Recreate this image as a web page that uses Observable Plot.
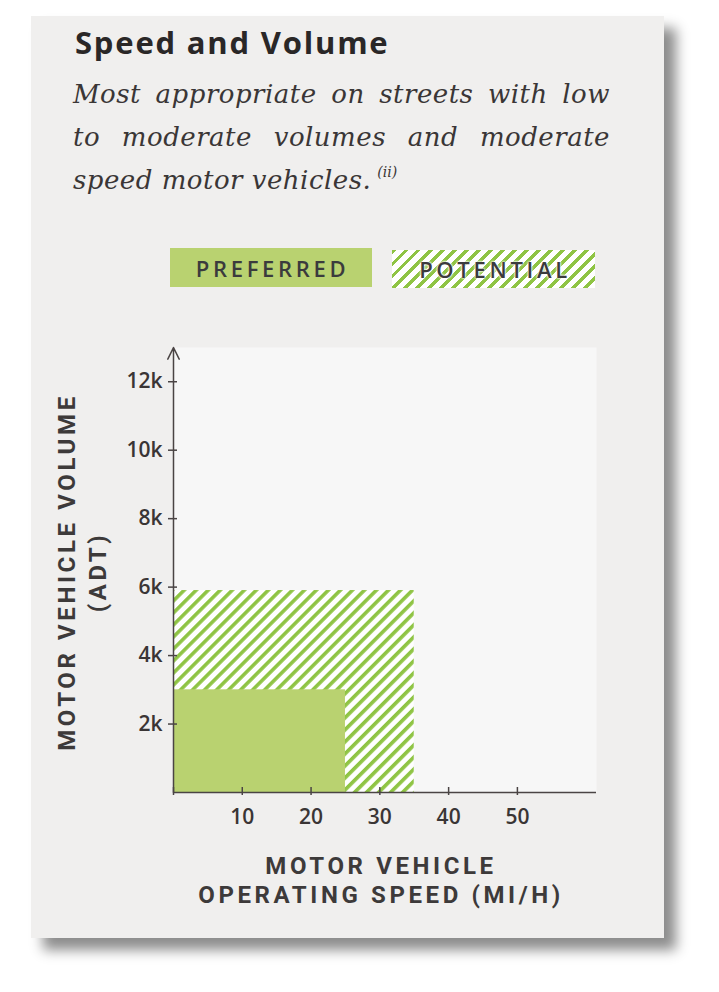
<!DOCTYPE html>
<html>
<head>
<meta charset="utf-8">
<script src="https://cdn.jsdelivr.net/npm/d3@7"></script>
<script src="https://cdn.jsdelivr.net/npm/@observablehq/plot@0.6"></script>
<style>
  html, body { margin: 0; padding: 0; background: #ffffff; width: 719px; height: 992px; overflow: hidden; }
  #card { position: absolute; left: 31px; top: 16px; width: 633px; height: 922px; background: #f0efee;
          box-shadow: 12px 12px 12px rgba(0,0,0,0.45); }
  #title { position: absolute; left: 75px; top: 24px; font-family: "Open Sans", sans-serif; font-weight: 700;
           font-size: 31px; line-height: 36px; color: #2a2727; letter-spacing: 1.8px; white-space: nowrap; }
  .sub { position: absolute; left: 73px; width: 537px; font-family: "DejaVu Serif", serif; font-style: italic;
         font-size: 26px; line-height: 30px; color: #3a3636; white-space: nowrap; letter-spacing: 0.5px; }
  .sub.j { text-align: justify; text-align-last: justify; white-space: normal; }
  .sub sup { font-size: 14px; vertical-align: 0; position: relative; top: -12px; margin-left: 6px; letter-spacing: 0; }
  .leg { position: absolute; font-family: "Open Sans", sans-serif; font-weight: 600; font-size: 22px; color: #3b3b3d;
         letter-spacing: 3.7px; display: flex; align-items: center; justify-content: center; box-sizing: border-box; padding-left: 3px; }
  #legPref { left: 170px; top: 248px; width: 202px; height: 39px; background: #b9d270; }
  #legPot { left: 392px; top: 250px; width: 203px; height: 38px;
            background: repeating-linear-gradient(135deg, #8fc444 0 3.5px, #ffffff 3.5px 8.5px);
            text-shadow: 0 0 2px #fff, 0 0 2px #fff, 0 0 3px #fff; }
  #chart { position: absolute; left: 31px; top: 320px; }
</style>
</head>
<body>
<div id="card"></div>
<div id="title">Speed and Volume</div>
<div class="sub j" style="top:79px">Most appropriate on streets with low</div>
<div class="sub j" style="top:122px">to moderate volumes and moderate</div>
<div class="sub" style="top:165px">speed motor vehicles.<sup>(ii)</sup></div>
<div class="leg" id="legPref">PREFERRED</div>
<div class="leg" id="legPot">POTENTIAL</div>
<div id="chart"></div>
<script>
// ---- data ----
const categories = ["Potential", "Preferred"];
const speedMax = [35, 25];          // mi/h
const volumeMax = [5900, 3000];     // ADT
const xTicks = [10, 20, 30, 40, 50];
const xTickMarks = [0, 10, 20, 30, 40, 50];
const yTicks = [2000, 4000, 6000, 8000, 10000, 12000];
const yTickLabels = ["2k", "4k", "6k", "8k", "10k", "12k"];
const xDomain = [0, 61.5];
const yDomain = [0, 13000];
const xTitle = "MOTOR VEHICLE\nOPERATING SPEED (MI/H)";
const yTitle = "MOTOR VEHICLE VOLUME\n(ADT)";

const rows = categories.map((c, i) => ({category: c, speed: speedMax[i], volume: volumeMax[i]}));
const axisColor = "#4a4444";
const textColor = "#3a3535";

const W = 633, H = 618, mL = 142, mR = 68, mT = 27, mB = 146;
const frameW = W - mL - mR, frameH = H - mT - mB;

const plot = Plot.plot({
  width: W, height: H,
  marginLeft: mL, marginRight: mR, marginTop: mT, marginBottom: mB,
  style: {background: "transparent", fontFamily: "'Open Sans', sans-serif", color: textColor, overflow: "visible"},
  x: {domain: xDomain},
  y: {domain: yDomain},
  marks: [
    Plot.frame({fill: "#f7f7f7", stroke: null}),
    Plot.rect(rows.filter(d => d.category === "Potential"), {x1: () => 0, x2: "speed", y1: () => 0, y2: "volume", fill: "url(#hatch)"}),
    Plot.rect(rows.filter(d => d.category === "Preferred"), {x1: () => 0, x2: "speed", y1: () => 0, y2: "volume", fill: "#b9d270"}),
    Plot.ruleY([0], {stroke: axisColor, strokeWidth: 1.5}),
    Plot.arrow([0], {x1: () => 0, x2: () => 0, y1: () => yDomain[0], y2: () => yDomain[1], stroke: axisColor, strokeWidth: 1.5, headLength: 13, headAngle: 52}),
    Plot.tickX(xTickMarks, {x: d => d, stroke: axisColor, strokeWidth: 1.5, insetTop: frameH - 5, insetBottom: -3}),
    Plot.tickY(yTicks, {y: d => d, stroke: axisColor, strokeWidth: 1.5, insetLeft: -5, insetRight: frameW - 4}),
    Plot.axisX({ticks: xTicks, tickSize: 0, tickPadding: 17, fontSize: 21, fontWeight: 600, label: null, fill: textColor}),
    Plot.axisY({ticks: yTicks, tickSize: 0, tickPadding: 11, fontSize: 21, fontWeight: 600, label: null, fill: textColor,
                tickFormat: d => yTickLabels[yTicks.indexOf(d)]}),
    Plot.text([xTitle], {text: d => d, frameAnchor: "bottom", dx: -4, dy: 87, lineAnchor: "middle", lineHeight: 1.21,
                         fontSize: 24, fontWeight: 700, fontFamily: "Roboto, sans-serif", fill: "#3d3a3a", ariaLabel: "x-title"}),
    Plot.text([yTitle], {text: d => d, frameAnchor: "left", textAnchor: "middle", dx: -93, dy: 2, rotate: -90, lineAnchor: "middle", lineHeight: 1.3,
                         fontSize: 24, fontWeight: 700, fontFamily: "Roboto, sans-serif", fill: "#3d3a3a", ariaLabel: "y-title"})
  ]
});

// hatch pattern definition
const svgSel = d3.select(plot);
const defs = svgSel.insert("defs", ":first-child");
const pat = defs.append("pattern").attr("id", "hatch").attr("patternUnits", "userSpaceOnUse")
  .attr("width", 8.5).attr("height", 8.5).attr("patternTransform", "rotate(45)");
pat.append("rect").attr("width", 8.5).attr("height", 8.5).attr("fill", "#ffffff");
pat.append("rect").attr("width", 3.6).attr("height", 8.5).attr("fill", "#8fc444");

// letter spacing on axis titles
svgSel.selectAll("text").filter(function() { return this.textContent.includes("MOTOR"); })
  .style("letter-spacing", "3.6px");

document.getElementById("chart").appendChild(plot);
</script>
</body>
</html>
